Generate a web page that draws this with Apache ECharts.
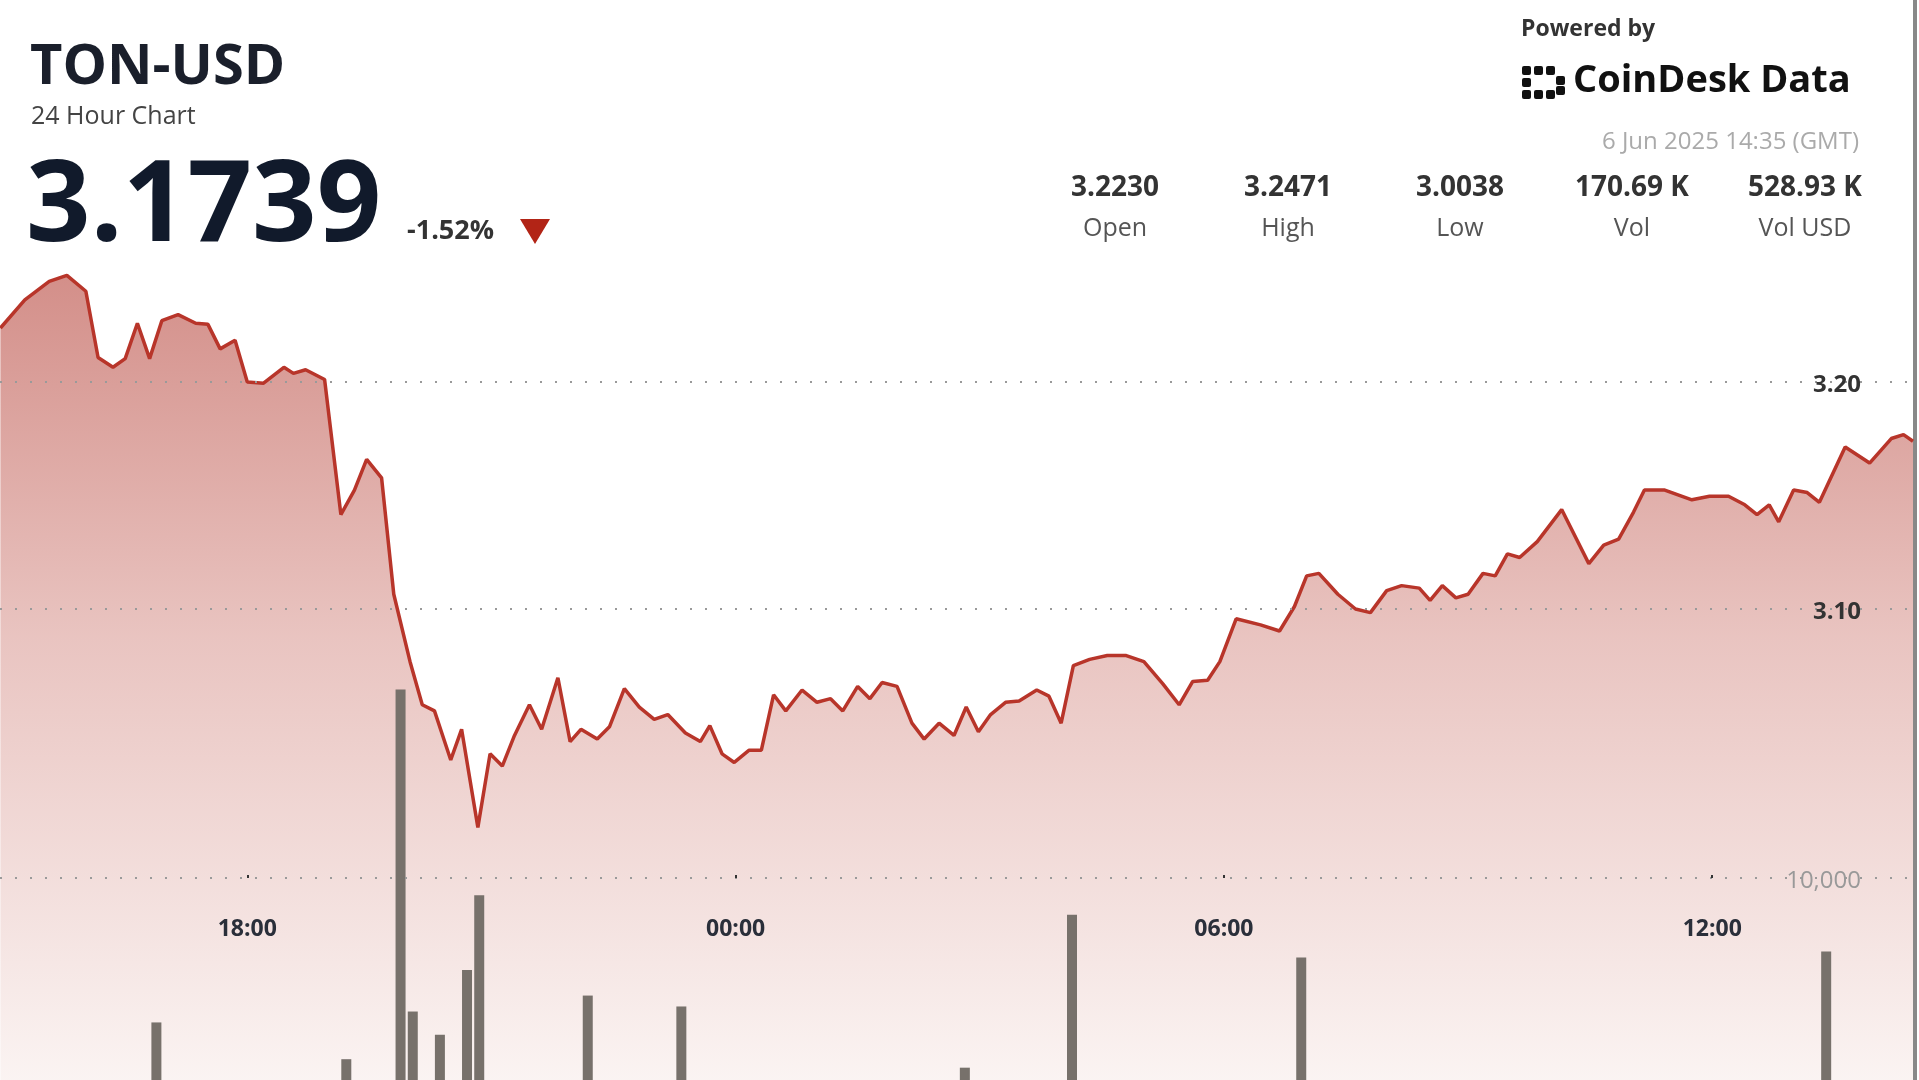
<!DOCTYPE html>
<html><head><meta charset="utf-8">
<script src="https://cdn.jsdelivr.net/npm/echarts@6/dist/echarts.min.js"></script>
<style>html,body{margin:0;padding:0;background:#fff}#c{width:1919px;height:1080px}</style>
</head><body><div id="c"></div>
<script>
// minutes relative to 18:00 (5 Jun 2025 GMT)
const priceMinutes = [-182,-164,-146,-133,-119,-110,-99,-90,-81,-72,-63,-51,-38,-29,-20,-9,0,12,27,34,43,57,69,79,88,99,108,120,129,138,150,158,170,179,188,197,208,217,229,238,246,258,267,278,289,300,310,323,334,341,350,359,370,379,388,397,409,420,430,439,450,459,468,479,490,499,510,521,530,539,548,559,569,582,591,600,609,621,634,648,661,675,687,697,708,717,729,747,761,772,781,790,804,817,828,840,851,864,872,881,891,900,911,920,929,938,951,969,989,1000,1011,1022,1030,1045,1065,1078,1092,1104,1113,1122,1129,1140,1150,1159,1178,1196,1212,1221,1228];
const priceValues = [3.2238,3.2362,3.2443,3.2470,3.2400,3.2108,3.2065,3.2103,3.2259,3.2103,3.2270,3.2297,3.2259,3.2254,3.2146,3.2184,3.2000,3.1995,3.2065,3.2038,3.2054,3.2011,3.1416,3.1524,3.1659,3.1578,3.1065,3.0768,3.0578,3.0551,3.0335,3.0470,3.0038,3.0362,3.0308,3.0443,3.0578,3.0470,3.0697,3.0416,3.0470,3.0427,3.0481,3.0649,3.0568,3.0514,3.0535,3.0454,3.0416,3.0486,3.0362,3.0324,3.0378,3.0378,3.0622,3.0551,3.0643,3.0589,3.0605,3.0551,3.0659,3.0605,3.0676,3.0659,3.0497,3.0427,3.0497,3.0443,3.0568,3.0459,3.0535,3.0589,3.0595,3.0643,3.0616,3.0497,3.0751,3.0778,3.0795,3.0795,3.0768,3.0670,3.0578,3.0681,3.0686,3.0768,3.0957,3.0930,3.0903,3.1011,3.1146,3.1157,3.1065,3.1000,3.0984,3.1081,3.1103,3.1092,3.1038,3.1103,3.1049,3.1065,3.1157,3.1146,3.1243,3.1227,3.1297,3.1438,3.1200,3.1281,3.1308,3.1427,3.1524,3.1524,3.1481,3.1497,3.1497,3.1459,3.1416,3.1459,3.1384,3.1524,3.1513,3.1470,3.1714,3.1643,3.1751,3.1768,3.1739];
const volumeMinutes = [-67,73,113,122,142,162,171,251,320,529,608,777,1164];
const volumeValues = [2850,1030,19330,3390,2240,5450,9150,4180,3640,610,8180,6060,6360];
const tickValues = [0,360,720,1080];
const tickLabels = ['18:00','00:00','06:00','12:00'];
const priceLines = [3.10, 3.20];
const volumeLines = [10000];
const stats = [['3.2230','Open'],['3.2471','High'],['3.0038','Low'],['170.69 K','Vol'],['528.93 K','Vol USD']];

const priceData = priceMinutes.map((m,i)=>[m,priceValues[i]]);
const volData = volumeMinutes.map((m,i)=>[m,volumeValues[i]]);
const XMIN=-182.3, XMAX=1228;
const F='Open Sans';
const chart = echarts.init(document.getElementById('c'));
const xBase = {type:'value',min:XMIN,max:XMAX,show:false};
const statX=[1115,1288,1460,1632,1805];
const graphics=[
 {type:'text',left:30,top:40,style:{text:'TON-USD',font:'bold 56px "Open Sans"',fill:'#1a1f2b'}},
 {type:'text',left:31,top:104,style:{text:'24 Hour Chart',font:'25px "Open Sans"',fill:'#444'}},
 {type:'text',left:26,top:152,style:{text:'3.1739',font:'bold 113px "Open Sans"',fill:'#111a2b'}},
 {type:'text',left:407,top:218,style:{text:'-1.52%',font:'bold 27px "Open Sans"',fill:'#333'}},
 {type:'polygon',shape:{points:[[520,219],[550,219],[535,244]]},style:{fill:'#b22416'}},
 {type:'text',left:1521,top:18,style:{text:'Powered by',font:'bold 23px "Open Sans"',fill:'#333'}},
 {type:'text',left:1573,top:62,style:{text:'CoinDesk Data',font:'bold 38px "Open Sans"',fill:'#111'}},
 {type:'text',right:60,top:130,style:{text:'6 Jun 2025 14:35 (GMT)',font:'24px "Open Sans"',fill:'#aaa'}},
 {type:'rect',left:1913,top:0,shape:{width:4,height:1080},style:{fill:'#888'}}
];
[[1522,64],[1522,76],[1522,88],[1534,64],[1534,88],[1546,64],[1546,88],[1556,74],[1556,84]].forEach(p=>graphics.push({type:'rect',left:p[0],top:p[1]+2,shape:{width:9,height:9,r:2},style:{fill:'#111'}}));
stats.forEach((s,i)=>{
 graphics.push({type:'text',x:statX[i],y:174,style:{text:s[0],font:'bold 28px "Open Sans"',fill:'#333',align:'center'}});
 graphics.push({type:'text',x:statX[i],y:216,style:{text:s[1],font:'25px "Open Sans"',fill:'#555',align:'center'}});
});
const dotted={color:'#9a9a9a',width:2,type:[2,13]};
chart.setOption({
 animation:false,
 grid:[{left:0,right:6,top:0,bottom:0},{left:0,right:6,top:0,bottom:0},{left:0,right:6,top:0,height:878}],
 xAxis:[{...xBase,gridIndex:0},{...xBase,gridIndex:1},
  {type:'value',min:XMIN,max:XMAX,gridIndex:2,position:'bottom',z:20,splitLine:{show:false},axisLine:{show:false},
   axisTick:{show:true,inside:true,length:3,customValues:tickValues,lineStyle:{color:'#333',width:2}},
   axisLabel:{customValues:tickValues,margin:40,formatter:v=>tickLabels[tickValues.indexOf(v)]||'',
     fontFamily:F,fontWeight:'bold',fontSize:23,color:'#2a2f3a'}}],
 yAxis:[{type:'value',gridIndex:0,min:2.8925,max:3.3683,show:false},
  {type:'value',gridIndex:1,min:0,max:53465,show:false},
  {type:'value',gridIndex:2,show:false}],
 series:[
  {type:'line',xAxisIndex:0,yAxisIndex:0,data:priceData,symbol:'none',z:2,
   lineStyle:{color:'#b8352a',width:3.5},
   areaStyle:{origin:'start',color:new echarts.graphic.LinearGradient(0,0,0,1,[{offset:0,color:'#c05e56'},{offset:0.45,color:'#dfaaa5'},{offset:1,color:'#f8eeec'}])},
   markLine:{silent:true,symbol:'none',lineStyle:dotted,
    label:{position:'insideEndTop',distance:0,offset:[-52,15],fontFamily:F,fontWeight:'bold',fontSize:24,color:'#333',formatter:p=>p.value.toFixed(2)},
    data:priceLines.map(v=>({yAxis:v}))}},
  {type:'bar',xAxisIndex:1,yAxisIndex:1,data:volData,barWidth:10,z:3,itemStyle:{color:'#77716b'},
   markLine:{silent:true,symbol:'none',lineStyle:dotted,
    label:{position:'insideEndTop',distance:0,offset:[-52,15],fontFamily:F,fontSize:24,color:'#999',formatter:p=>p.value.toLocaleString('en-US')},
    data:volumeLines.map(v=>({yAxis:v}))}}
 ],
 graphic:graphics
});
</script></body></html>
